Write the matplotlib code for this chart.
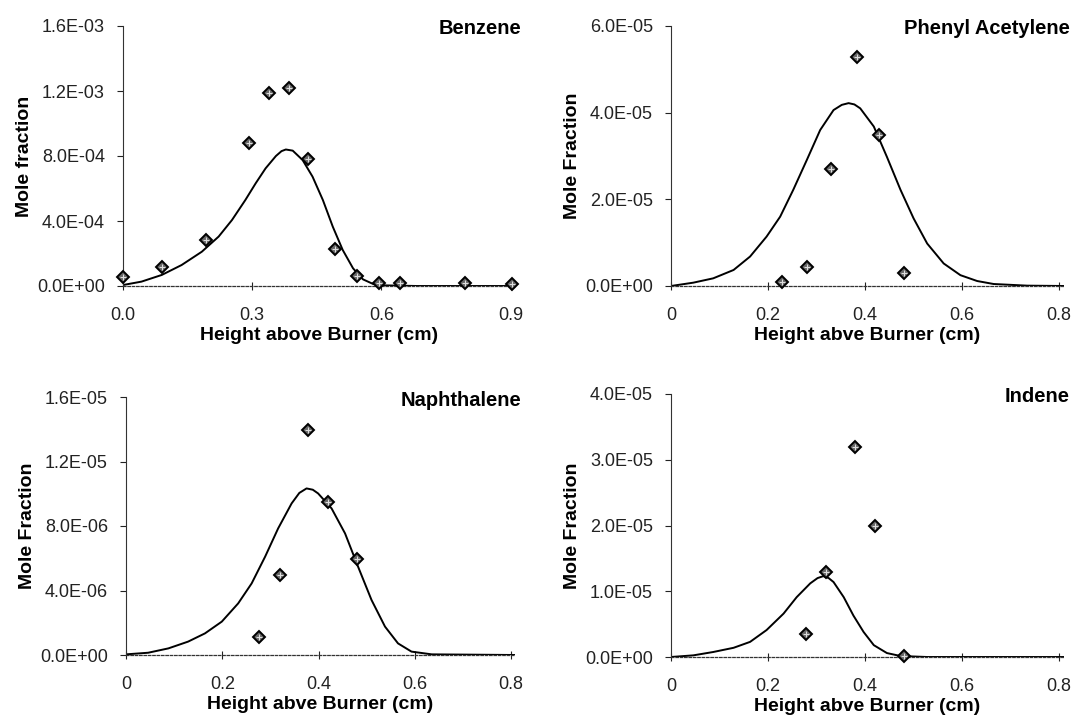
import numpy as np
import matplotlib
matplotlib.use("Agg")
import matplotlib.pyplot as plt
from matplotlib.ticker import FuncFormatter
from matplotlib.transforms import offset_copy

plt.rcParams['font.family'] = ['Liberation Sans', 'DejaVu Sans']

# ---- Benzene ----
benz_x = [0.0, 0.09, 0.193, 0.292, 0.338, 0.386, 0.429, 0.491, 0.543, 0.594, 0.643, 0.793, 0.904]
benz_y = [5.7e-5, 1.15e-4, 2.83e-4, 8.82e-4, 1.187e-3, 1.22e-3, 7.82e-4, 2.26e-4, 6.4e-5, 1.6e-5, 2.0e-5, 1.6e-5, 1.2e-5]
benz_fit_x = [0.0, 0.043, 0.09, 0.136, 0.183, 0.222, 0.253, 0.284, 0.308, 0.331, 0.355, 0.368, 0.378,
              0.394, 0.417, 0.44, 0.464, 0.487, 0.51, 0.534, 0.557, 0.581, 0.604, 0.682, 0.91]
benz_fit_y = [6e-6, 2.7e-5, 6.8e-5, 1.29e-4, 2.11e-4, 3.04e-4, 4.06e-4, 5.29e-4, 6.32e-4, 7.24e-4, 8.0e-4, 8.3e-4, 8.4e-4,
              8.33e-4, 7.75e-4, 6.73e-4, 5.29e-4, 3.65e-4, 2.22e-4, 1.09e-4, 4.1e-5, 1.2e-5, 4e-6, 0.0, 0.0]

# ---- Phenyl Acetylene ----
phac_x = [0.228, 0.28, 0.33, 0.384, 0.428, 0.48]
phac_y = [1.0e-6, 4.3e-6, 2.69e-5, 5.29e-5, 3.48e-5, 2.9e-6]
phac_fit_x = [0.0, 0.046, 0.087, 0.129, 0.163, 0.197, 0.225, 0.252, 0.28, 0.3075, 0.335, 0.352, 0.366,
              0.378, 0.39, 0.418, 0.445, 0.473, 0.5, 0.528, 0.562, 0.5965, 0.631, 0.665, 0.734, 0.81]
phac_fit_y = [0.0, 7.7e-7, 1.77e-6, 3.7e-6, 6.8e-6, 1.14e-5, 1.6e-5, 2.22e-5, 2.91e-5, 3.6e-5, 4.06e-5, 4.18e-5, 4.22e-5,
              4.19e-5, 4.1e-5, 3.68e-5, 2.98e-5, 2.22e-5, 1.56e-5, 9.8e-6, 5.2e-6, 2.5e-6, 1.15e-6, 4.6e-7, 8e-8, 0.0]

# ---- Naphthalene ----
naph_x = [0.277, 0.32, 0.379, 0.419, 0.479]
naph_y = [1.14e-6, 4.94e-6, 1.397e-5, 9.46e-6, 5.95e-6]
naph_fit_x = [0.0, 0.046, 0.088, 0.129, 0.164, 0.199, 0.233, 0.261, 0.289, 0.316, 0.344, 0.36, 0.375,
              0.388, 0.399, 0.427, 0.455, 0.482, 0.51, 0.538, 0.565, 0.593, 0.635, 0.808]
naph_fit_y = [4e-8, 1.4e-7, 4.1e-7, 8.3e-7, 1.34e-6, 2.07e-6, 3.2e-6, 4.44e-6, 6.1e-6, 7.85e-6, 9.4e-6, 1.005e-5, 1.033e-5,
              1.025e-5, 1.002e-5, 9.09e-6, 7.54e-6, 5.48e-6, 3.41e-6, 1.76e-6, 7.2e-7, 2.1e-7, 4e-8, 0.0]

# ---- Indene ----
ind_x = [0.279, 0.319, 0.38, 0.42, 0.48]
ind_y = [3.45e-6, 1.29e-5, 3.20e-5, 2.0e-5, 1.5e-7]
ind_fit_x = [0.0, 0.046, 0.087, 0.129, 0.163, 0.197, 0.232, 0.259, 0.287, 0.302, 0.314, 0.325, 0.335, 0.356,
             0.376, 0.397, 0.418, 0.445, 0.473, 0.528, 0.81]
ind_fit_y = [0.0, 2.5e-7, 7.6e-7, 1.4e-6, 2.3e-6, 4.1e-6, 6.6e-6, 9.1e-6, 1.12e-5, 1.2e-5, 1.23e-5, 1.2e-5, 1.14e-5, 9.1e-6,
             6.3e-6, 3.8e-6, 1.8e-6, 6e-7, 1.5e-7, 0.0, 0.0]

panels = [
    dict(title="Benzene", x=benz_x, y=benz_y, fx=benz_fit_x, fy=benz_fit_y,
         ylim=1.6e-3, yticks=[0, 4e-4, 8e-4, 1.2e-3, 1.6e-3],
         xlim=0.91, xticks=[0.0, 0.3, 0.6, 0.9], xlabels=["0.0", "0.3", "0.6", "0.9"],
         xlabel="Height above Burner (cm)", ylabel="Mole fraction",
         rect=[123, 26, 515, 286]),
    dict(title="Phenyl Acetylene", x=phac_x, y=phac_y, fx=phac_fit_x, fy=phac_fit_y,
         ylim=6e-5, yticks=[0, 2e-5, 4e-5, 6e-5],
         xlim=0.81, xticks=[0, 0.2, 0.4, 0.6, 0.8], xlabels=["0", "0.2", "0.4", "0.6", "0.8"],
         xlabel="Height abve Burner (cm)", ylabel="Mole Fraction",
         rect=[671, 26, 1064, 286]),
    dict(title="Naphthalene", x=naph_x, y=naph_y, fx=naph_fit_x, fy=naph_fit_y,
         ylim=1.6e-5, yticks=[0, 4e-6, 8e-6, 1.2e-5, 1.6e-5],
         xlim=0.808, xticks=[0, 0.2, 0.4, 0.6, 0.8], xlabels=["0", "0.2", "0.4", "0.6", "0.8"],
         xlabel="Height abve Burner (cm)", ylabel="Mole Fraction",
         rect=[126, 397, 515, 655]),
    dict(title="Indene", x=ind_x, y=ind_y, fx=ind_fit_x, fy=ind_fit_y,
         ylim=4e-5, yticks=[0, 1e-5, 2e-5, 3e-5, 4e-5],
         xlim=0.81, xticks=[0, 0.2, 0.4, 0.6, 0.8], xlabels=["0", "0.2", "0.4", "0.6", "0.8"],
         xlabel="Height abve Burner (cm)", ylabel="Mole Fraction",
         rect=[671, 394, 1064, 657]),
]

W, H = 1075, 718
fig = plt.figure(figsize=(W / 100, H / 100), dpi=100)

for p in panels:
    l, t, r, b = p["rect"]
    ax = fig.add_axes([l / W, 1 - b / H, (r - l) / W, (b - t) / H])
    ax.plot(p["fx"], p["fy"], color="black", lw=1.4, zorder=2,
            solid_joinstyle="round", solid_capstyle="round")
    ax.plot(p["x"], p["y"], linestyle="none", marker="D", markersize=6.5,
            mfc="#666666", mec="black", mew=1.4, zorder=3, clip_on=False)
    ax.plot(p["x"], p["y"], linestyle="none", marker="+", markersize=4,
            mec="#dddddd", mew=0.8, zorder=4, clip_on=False)
    ax.set_xlim(0, p["xlim"])
    ax.set_ylim(0, p["ylim"])
    ax.set_yticks(p["yticks"])
    ax.yaxis.set_major_formatter(FuncFormatter(lambda v, pos: f"{v:.1E}"))
    ax.set_xticks(p["xticks"])
    ax.set_xticklabels(p["xlabels"])
    for s in ["top", "right"]:
        ax.spines[s].set_visible(False)
    ax.spines["left"].set_color("#333333")
    ax.spines["left"].set_linewidth(0.8)
    ax.spines["bottom"].set_color("#333333")
    ax.spines["bottom"].set_linewidth(0.9)
    ax.spines["bottom"].set_linestyle((0, (2, 1.5)))
    ax.tick_params(axis="y", direction="out", length=4, width=0.8, labelsize=13,
                   colors="#222222", pad=9)
    ax.tick_params(axis="x", direction="inout", length=6, width=0.8, labelsize=13,
                   colors="#222222", pad=12)
    ax.set_xlabel(p["xlabel"], fontsize=14, fontweight="bold", labelpad=2)
    ax.set_ylabel(p["ylabel"], fontsize=14, fontweight="bold", labelpad=3)
    title_tr = offset_copy(ax.transAxes, fig=fig, x=6, y=-3, units="dots")
    ax.text(1.0, 1.0, p["title"], transform=title_tr, ha="right", va="center",
            fontsize=14.5, fontweight="bold")
    ax.patch.set_alpha(0)

fig.savefig("out.png", dpi=100, facecolor="white")
